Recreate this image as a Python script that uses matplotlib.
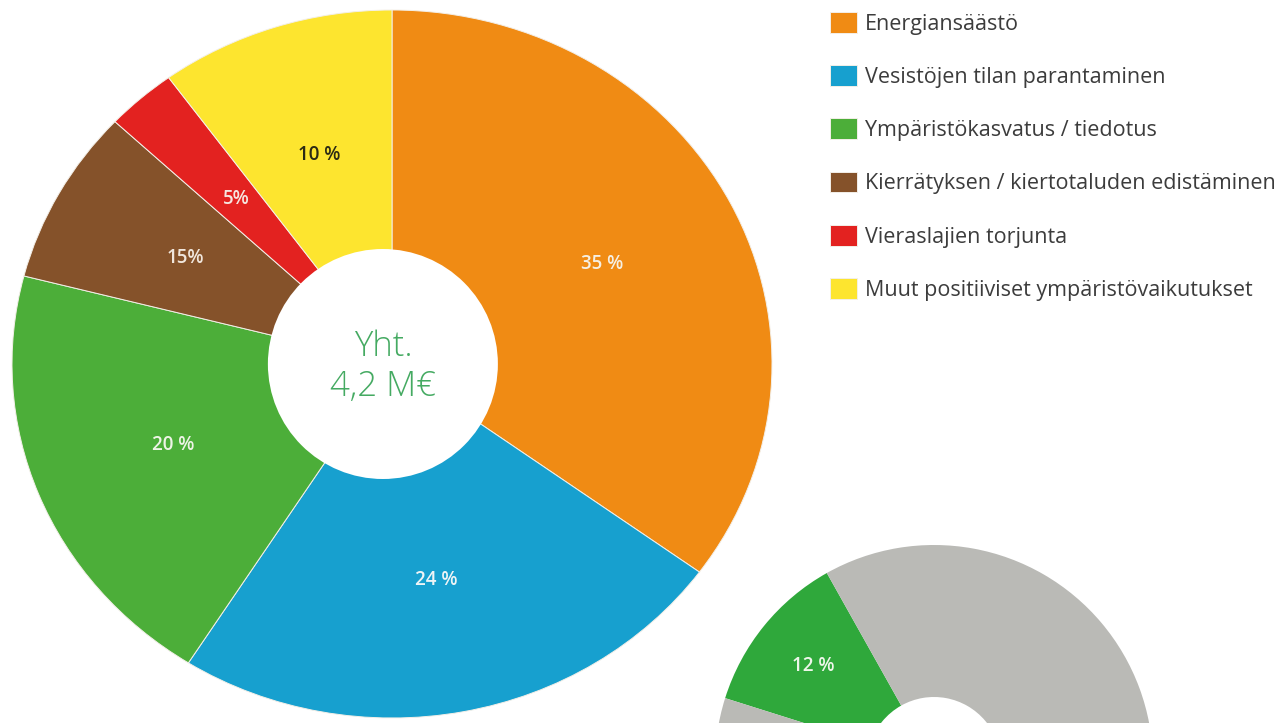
import matplotlib.pyplot as plt
from matplotlib.patches import Ellipse

# Main donut data (slice sizes, labels as printed)
categories = ['Energiansäästö', 'Vesistöjen tilan parantaminen',
              'Ympäristökasvatus / tiedotus',
              'Kierrätyksen / kiertotaluden edistäminen',
              'Vieraslajien torjunta', 'Muut positiiviset ympäristövaikutukset']
shares = [35, 24, 20, 8, 3, 10]
share_labels = ['35 %', '24 %', '20 %', '15%', '5%', '10 %']
colors = ['#f08b14', '#17a0cf', '#4cae39', '#85522a', '#e32220', '#fde52f']
label_colors = ['#f6efe2', '#eef4f6', '#eef4e6', '#f0e6dc', '#f6e6e0', '#2b2a14']

# Second (cropped) donut
shares2 = [12, 88]
share2_labels = ['12 %', '']
colors2 = ['#2fa83b', '#babab6']

plt.rcParams['font.family'] = ['Open Sans', 'DejaVu Sans']

W, H = 1286, 723
fig = plt.figure(figsize=(W / 100, H / 100), dpi=100)

# main donut, slightly wider than tall like the reference
cx, cy, rx, ry = 392, 364, 380, 354
ax = fig.add_axes([(cx - rx) / W, (H - cy - ry) / H, 2 * rx / W, 2 * ry / H])
wedges, texts = ax.pie(shares, colors=colors, labels=share_labels,
                       startangle=90, counterclock=False, labeldistance=0.62,
                       wedgeprops=dict(edgecolor='#f3efe8', linewidth=0.7))
for t, c in zip(texts, label_colors):
    t.set_ha('center')
    t.set_va('center')
    t.set_color(c)
    t.set_fontsize(13.5)
    t.set_fontweight('semibold')
ax.add_patch(Ellipse((-0.024, 0.0), 230 / rx, 230 / ry, facecolor='white',
                     edgecolor='none', zorder=3))
ax.text(-0.024, 0.05, 'Yht.', ha='center', va='center', fontsize=25,
        color='#45aa62', fontweight='light', zorder=4)
ax.text(-0.024, -0.065, '4,2 M€', ha='center', va='center', fontsize=25,
        color='#45aa62', fontweight='light', zorder=4)
ax.set_xlim(-1, 1)
ax.set_ylim(-1, 1)
ax.set_aspect('auto')
ax.axis('off')

ax.legend(wedges, categories, loc='upper left',
          bbox_to_anchor=(830 / W, 1 - 12 / H), bbox_transform=fig.transFigure,
          frameon=False, fontsize=15.5, handlelength=1.26, handleheight=1.1,
          handletextpad=0.37, labelspacing=1.42, labelcolor='#3c3c3c',
          borderpad=0, borderaxespad=0)

# second donut, cut by the bottom edge
cx2, cy2, r2 = 934, 764, 219
ax2 = fig.add_axes([(cx2 - r2) / W, (H - cy2 - r2) / H, 2 * r2 / W, 2 * r2 / H])
w2, t2 = ax2.pie(shares2, colors=colors2, labels=share2_labels,
                 startangle=162.5, counterclock=False, labeldistance=0.71,
                 wedgeprops=dict(width=1 - 67 / r2, edgecolor='none'))
for t in t2:
    t.set_ha('center')
    t.set_va('center')
    t.set_color('#eef6ea')
    t.set_fontsize(13.5)
    t.set_fontweight('semibold')
ax2.set_xlim(-1, 1)
ax2.set_ylim(-1, 1)
ax2.axis('off')

fig.savefig('out.png', dpi=100)
